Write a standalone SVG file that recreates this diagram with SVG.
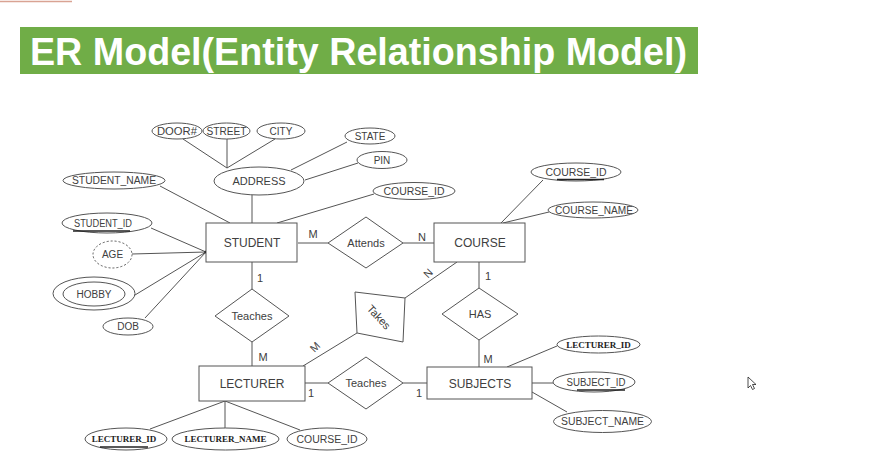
<svg xmlns="http://www.w3.org/2000/svg" width="878" height="472" viewBox="0 0 878 472">
<style>
.ln{stroke:#555;stroke-width:1;fill:none}
.sh{fill:#fff;stroke:#555;stroke-width:1}
.t{font-family:"Liberation Sans",Arial,sans-serif;fill:#404040;text-anchor:middle}
.e{font-size:12px}
.a{font-size:10px}
.r{font-size:11px}
.c{font-size:11px}
.b{font-family:"Liberation Serif","Times New Roman",serif;font-weight:bold;font-size:9px;fill:#222;text-anchor:middle}
.u{stroke:#222;stroke-width:1.5}
</style>
<rect width="878" height="472" fill="#fff"/>
<line x1="0" y1="1.5" x2="72" y2="1.5" stroke="#d9a393" stroke-width="1.5"/>
<g id="title">
<rect x="20" y="27" width="678" height="47" fill="#70ad47"/>
<text x="30" y="65" font-family="'Liberation Sans',Arial,sans-serif" font-weight="bold" font-size="38" fill="#fff" textLength="657" lengthAdjust="spacingAndGlyphs">ER Model(Entity Relationship Model)</text>
</g>
<g id="connectors">
<line class="ln" x1="252" y1="195" x2="252" y2="223"/>
<line class="ln" x1="183" y1="139" x2="227" y2="168"/>
<line class="ln" x1="227" y1="139" x2="227" y2="168"/>
<line class="ln" x1="275" y1="139" x2="227" y2="168"/>
<line class="ln" x1="347" y1="142" x2="291" y2="170"/>
<line class="ln" x1="358" y1="163" x2="305" y2="180"/>
<line class="ln" x1="374" y1="194" x2="277" y2="223"/>
<line class="ln" x1="160" y1="186" x2="230" y2="223"/>
<line class="ln" x1="151" y1="228" x2="206" y2="252"/>
<line class="ln" x1="132" y1="254" x2="206" y2="252"/>
<line class="ln" x1="135" y1="295" x2="206" y2="252"/>
<line class="ln" x1="145" y1="318" x2="206" y2="252"/>
<line class="ln" x1="298" y1="243" x2="328" y2="243"/>
<line class="ln" x1="403" y1="243" x2="434" y2="243"/>
<line class="ln" x1="543" y1="180" x2="501" y2="223"/>
<line class="ln" x1="549" y1="212" x2="503" y2="223"/>
<line class="ln" x1="252" y1="262" x2="252" y2="289"/>
<line class="ln" x1="252" y1="342" x2="252" y2="366"/>
<line class="ln" x1="479" y1="262" x2="479" y2="288"/>
<line class="ln" x1="479" y1="340" x2="479" y2="367"/>
<line class="ln" x1="457" y1="262" x2="405" y2="298"/>
<line class="ln" x1="357" y1="333" x2="303" y2="366"/>
<line class="ln" x1="305" y1="383" x2="328" y2="383"/>
<line class="ln" x1="403" y1="383" x2="427" y2="383"/>
<line class="ln" x1="557" y1="346" x2="507" y2="367"/>
<line class="ln" x1="532" y1="383" x2="553" y2="383"/>
<line class="ln" x1="532" y1="392" x2="567" y2="412"/>
<line class="ln" x1="225" y1="401" x2="150" y2="429"/>
<line class="ln" x1="225" y1="401" x2="225" y2="428"/>
<line class="ln" x1="225" y1="401" x2="300" y2="430"/>
<circle cx="206" cy="252" r="1.6" fill="#111"/>
<text class="t c" x="313" y="238">M</text>
<text class="t c" x="422" y="241">N</text>
<text class="t c" x="260" y="282">1</text>
<text class="t c" x="263" y="361">M</text>
<text class="t c" x="488" y="280">1</text>
<text class="t c" x="488" y="363">M</text>
<text class="t c" x="311" y="397">1</text>
<text class="t c" x="419" y="397">1</text>
<text class="t c" transform="translate(428,273) rotate(-45)" y="4">N</text>
<text class="t c" transform="translate(315,347) rotate(-45)" y="4">M</text>
</g>
<g id="STUDENT"><rect class="sh" x="206" y="223" width="91" height="39"/><text class="t e" x="252" y="247">STUDENT</text></g>
<g id="COURSE"><rect class="sh" x="434" y="223" width="91" height="39"/><text class="t e" x="480" y="247">COURSE</text></g>
<g id="LECTURER"><rect class="sh" x="199" y="366" width="106" height="35"/><text class="t e" x="252" y="388">LECTURER</text></g>
<g id="SUBJECTS"><rect class="sh" x="427" y="367" width="105" height="32"/><text class="t e" x="480" y="388">SUBJECTS</text></g>
<g id="ADDRESS"><ellipse class="sh" cx="259" cy="181" rx="45" ry="14"/><text class="t r" x="259" y="185">ADDRESS</text></g>
<g id="DOOR"><ellipse class="sh" cx="177" cy="131" rx="25" ry="8"/><text class="t a" x="177" y="134.5" textLength="40" lengthAdjust="spacingAndGlyphs">DOOR#</text></g>
<g id="STREET"><ellipse class="sh" cx="226.5" cy="131" rx="23.5" ry="8"/><text class="t a" x="226.5" y="134.5" textLength="40" lengthAdjust="spacingAndGlyphs">STREET</text></g>
<g id="CITY"><ellipse class="sh" cx="281" cy="131" rx="24" ry="8"/><text class="t a" x="281" y="134.5">CITY</text></g>
<g id="STATE"><ellipse class="sh" cx="370" cy="136" rx="25" ry="8"/><text class="t a" x="370" y="139.5">STATE</text></g>
<g id="PIN"><ellipse class="sh" cx="382" cy="160" rx="25" ry="8.5"/><text class="t a" x="382" y="163.5">PIN</text></g>
<g id="COURSE_ID_S"><ellipse class="sh" cx="414" cy="191" rx="41" ry="8.5"/><text class="t a" x="414" y="194.5" textLength="61" lengthAdjust="spacingAndGlyphs">COURSE_ID</text></g>
<g id="STUDENT_NAME"><ellipse class="sh" cx="114" cy="180.5" rx="51" ry="8.5"/><text class="t a" x="114" y="184" textLength="84" lengthAdjust="spacingAndGlyphs">STUDENT_NAME</text></g>
<g id="STUDENT_ID"><ellipse class="sh" cx="107" cy="223" rx="45" ry="10"/><text class="t a" x="103" y="226.5" textLength="58" lengthAdjust="spacingAndGlyphs">STUDENT_ID</text><line class="u" x1="73" y1="231" x2="130" y2="231"/></g>
<g id="AGE"><ellipse class="sh" cx="112.5" cy="254.5" rx="19.5" ry="13.5" stroke-dasharray="2,2"/><text class="t a" x="112.5" y="258">AGE</text></g>
<g id="HOBBY"><ellipse class="sh" cx="94" cy="293.5" rx="41" ry="16.5"/><ellipse class="sh" cx="94" cy="294" rx="31" ry="12"/><text class="t a" x="94" y="297.5">HOBBY</text></g>
<g id="DOB"><ellipse class="sh" cx="128" cy="326.5" rx="25" ry="8.5"/><text class="t a" x="128" y="330">DOB</text></g>
<g id="ATTENDS"><polygon class="sh" points="366,217 403,243 366,268 328,243"/><text class="t r" x="366" y="247">Attends</text></g>
<g id="TEACHES1"><polygon class="sh" points="252,289 289,316 252,342 215,316"/><text class="t r" x="252" y="320">Teaches</text></g>
<g id="HAS"><polygon class="sh" points="479,288 518,314 479,340 442,314"/><text class="t r" x="480" y="318">HAS</text></g>
<g id="TAKES"><polygon class="sh" points="355,292 405,298 403,342 357,333"/><text class="t r" transform="translate(379,317) rotate(47)" y="4">Takes</text></g>
<g id="TEACHES2"><polygon class="sh" points="366,357 403,383 366,409 328,383"/><text class="t r" x="366" y="387">Teaches</text></g>
<g id="COURSE_ID_C"><ellipse class="sh" cx="576" cy="172" rx="45" ry="9"/><text class="t a" x="576" y="175.5" textLength="61" lengthAdjust="spacingAndGlyphs">COURSE_ID</text><line class="u" x1="557" y1="179.5" x2="604" y2="179.5"/></g>
<g id="COURSE_NAME"><ellipse class="sh" cx="593" cy="210" rx="45" ry="8"/><text class="t a" x="594" y="213.5" textLength="78" lengthAdjust="spacingAndGlyphs">COURSE_NAME</text></g>
<g id="LECTURER_ID_S"><ellipse class="sh" cx="598.5" cy="344.5" rx="41.5" ry="8.5"/><text class="b" x="598.5" y="347.5">LECTURER_ID</text></g>
<g id="SUBJECT_ID"><ellipse class="sh" cx="594" cy="382" rx="41" ry="10"/><text class="t a" x="596" y="385.5" textLength="59" lengthAdjust="spacingAndGlyphs">SUBJECT_ID</text><line class="u" x1="577" y1="390" x2="625" y2="390"/></g>
<g id="SUBJECT_NAME"><ellipse class="sh" cx="602.5" cy="421.5" rx="49" ry="11"/><text class="t a" x="602.5" y="425" textLength="83" lengthAdjust="spacingAndGlyphs">SUBJECT_NAME</text></g>
<g id="LECTURER_ID_L"><ellipse class="sh" cx="126" cy="439" rx="41" ry="11"/><text class="b" x="124" y="442">LECTURER_ID</text><line class="u" x1="100" y1="447" x2="148" y2="447"/></g>
<g id="LECTURER_NAME"><ellipse class="sh" cx="225.5" cy="439" rx="53.5" ry="11"/><text class="b" x="225.5" y="442">LECTURER_NAME</text></g>
<g id="COURSE_ID_L"><ellipse class="sh" cx="327" cy="439" rx="40" ry="11"/><text class="t a" x="327" y="442.5" textLength="61" lengthAdjust="spacingAndGlyphs">COURSE_ID</text></g>
<polygon points="748,377 748,388 750.5,385.5 752.5,389.5 754.5,388.5 752.5,384.5 756,384.5" fill="#fff" stroke="#222" stroke-width="0.8"/>
</svg>
